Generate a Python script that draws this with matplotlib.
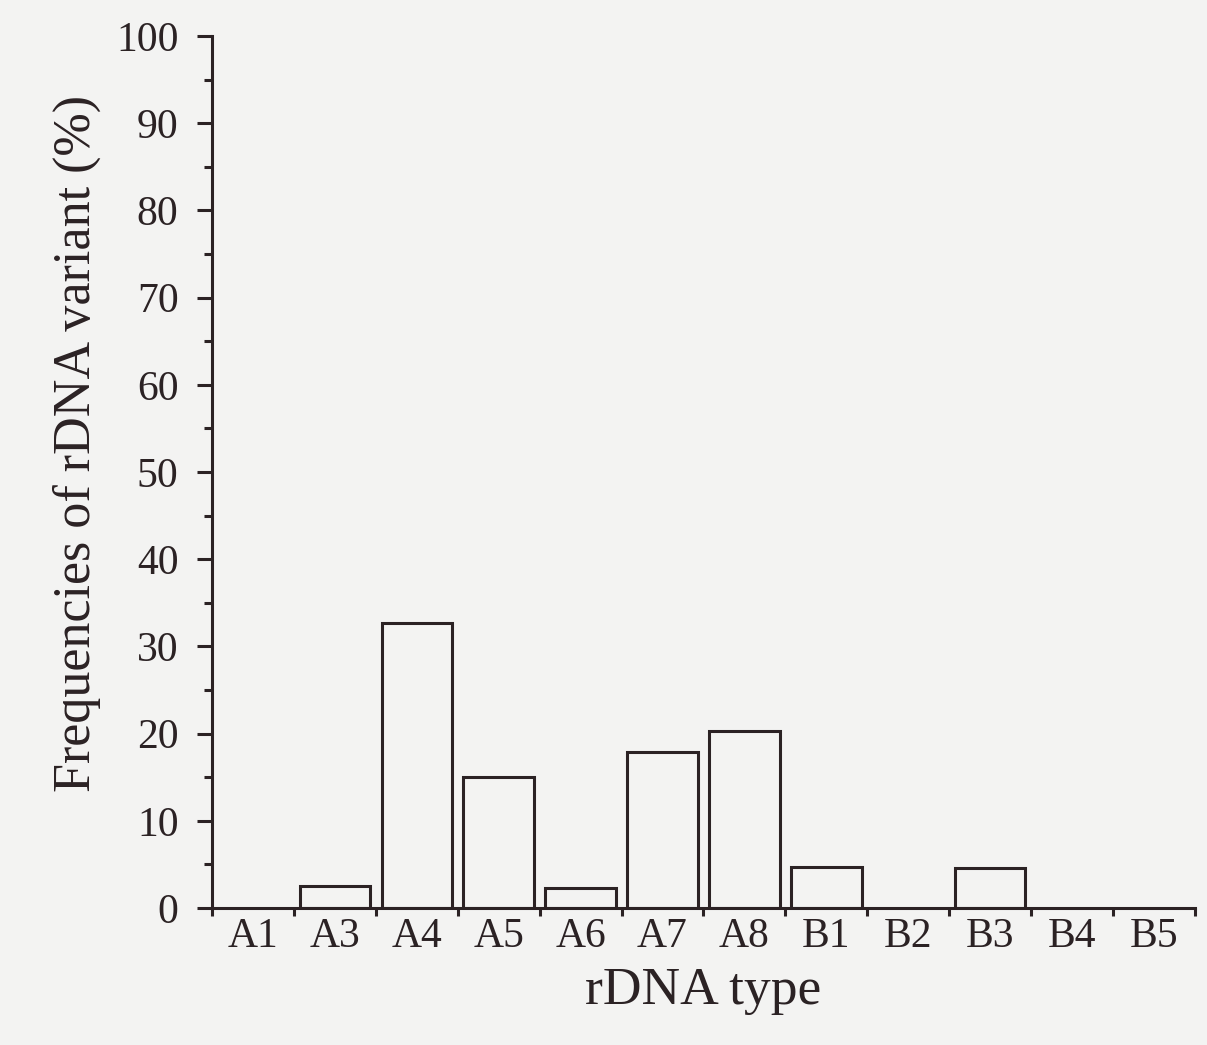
import matplotlib
matplotlib.use("Agg")
import matplotlib.pyplot as plt
import numpy as np

categories = ["A1", "A3", "A4", "A5", "A6", "A7", "A8", "B1", "B2", "B3", "B4", "B5"]
frequencies = [0, 2.5, 32.7, 15.0, 2.3, 17.9, 20.3, 4.7, 0, 4.6, 0, 0]
yticks = [0, 10, 20, 30, 40, 50, 60, 70, 80, 90, 100]

plt.rcParams['font.family'] = ['Liberation Serif', 'DejaVu Serif']
ink = '#2b2224'
bg = '#f3f3f2'

fig = plt.figure(figsize=(12.07, 10.45), dpi=100, facecolor=bg)
ax = fig.add_axes([0.1756, 0.131, 0.8144, 0.8346], facecolor=bg)

x = np.arange(len(categories))
vals = np.array(frequencies)
mask = vals > 0
ax.bar(x[mask], vals[mask], width=0.86, facecolor='none', edgecolor=ink, linewidth=2.2)

ax.set_xlim(-0.5, len(categories) - 0.5)
ax.set_ylim(0, 100)
for s in ['top', 'right']:
    ax.spines[s].set_visible(False)
for s in ['left', 'bottom']:
    ax.spines[s].set_color(ink)
    ax.spines[s].set_linewidth(2.2)

ax.set_xticks(x)
ax.set_xticklabels(categories)
ax.set_xticks(np.arange(-0.5, len(categories)), minor=True)
ax.tick_params(axis='x', which='major', length=0, pad=7, labelsize=30, colors=ink)
ax.tick_params(axis='x', which='minor', length=6, width=2.2, direction='out', colors=ink)

ax.set_yticks(yticks)
ax.set_yticks(np.arange(5, 100, 10), minor=True)
ax.tick_params(axis='y', which='major', length=11, width=2.2, pad=13, labelsize=30, colors=ink)
ax.tick_params(axis='y', which='minor', length=6, width=2.2, colors=ink)

ax.set_xlabel("rDNA type", fontsize=38.5, color=ink)
ax.set_ylabel("Frequencies of rDNA variant (%)", fontsize=37.5, color=ink)
ax.xaxis.set_label_coords(0.5, -0.068)
ax.yaxis.set_label_coords(-0.113, 0.533)

fig.savefig("out.png", dpi=100, facecolor=bg)
